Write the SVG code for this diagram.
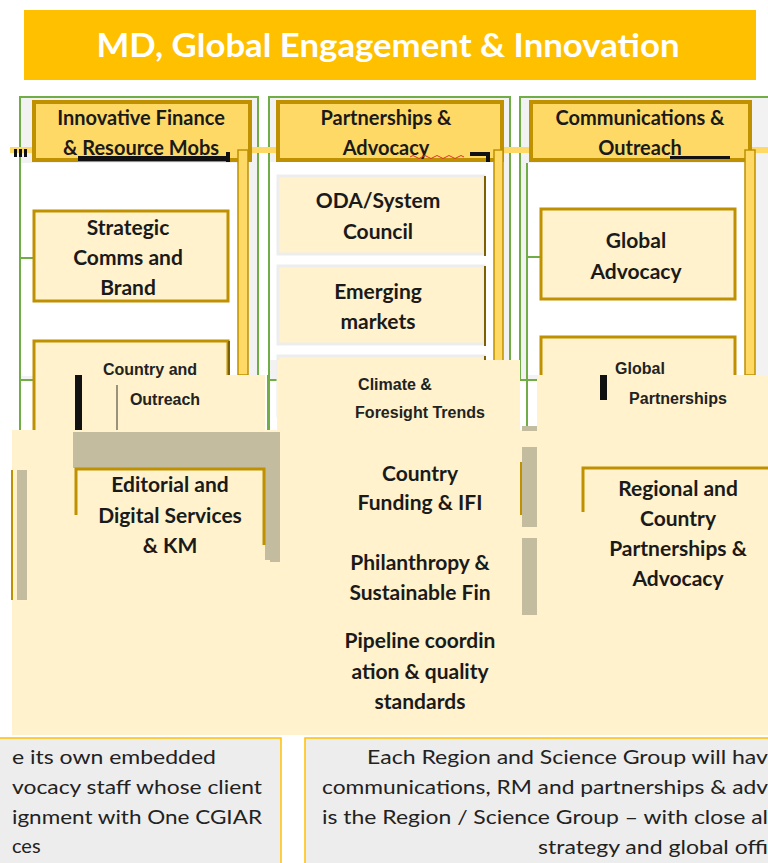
<svg xmlns="http://www.w3.org/2000/svg" width="768" height="863" viewBox="0 0 768 863">
<style>
.lbl{font-family:Lato,"Open Sans","Liberation Sans",sans-serif;font-weight:bold;font-size:21px;fill:#1a1a1a;text-anchor:middle}
.hdr{font-family:Lato,"Open Sans","Liberation Sans",sans-serif;font-weight:bold;font-size:20px;fill:#1a1a1a;text-anchor:middle}
.garb{font-family:"Liberation Sans",sans-serif;font-weight:bold;font-size:16px;fill:#222;text-anchor:middle}
.body{font-family:Lato,"Open Sans","Liberation Sans",sans-serif;font-size:20px;fill:#222}
.outer{fill:#F2F2F2;stroke:#70AD47;stroke-width:2}
.head{fill:#FFD966;stroke:#BF9000;stroke-width:4}
.child{fill:#FFF2CC;stroke:#BF9000;stroke-width:3}
.soft{fill:#FFF2CC;stroke:#EDEDED;stroke-width:3}
.gray{fill:#C4BC9F}
.cream{fill:#FFF2CC}
.conn{stroke:#70AD47;stroke-width:2;fill:none}
.bar{fill:#FFD966;stroke:#BF9000;stroke-width:1.5}
</style>
<rect width="768" height="863" fill="#ffffff"/>

<g id="title">
  <rect x="24" y="10" width="732" height="70" fill="#FFC000"/>
  <text x="388" y="57" font-family="Lato,'Open Sans','Liberation Sans',sans-serif" font-weight="bold" font-size="33" fill="#ffffff" text-anchor="middle" textLength="583" lengthAdjust="spacingAndGlyphs">MD, Global Engagement &amp; Innovation</text>
</g>

<g id="col1-frame"><rect class="outer" x="20" y="97" width="238" height="283"/></g>
<g id="col2-frame"><rect class="outer" x="269" y="97" width="241" height="283"/></g>
<g id="col3-frame"><rect class="outer" x="520" y="97" width="260" height="283"/></g>

<rect x="10" y="147" width="758" height="6" fill="#FFD966"/>

<g id="col1-header">
  <rect class="head" x="34" y="102" width="216" height="58"/>
  <text class="hdr" x="141" y="125">Innovative Finance</text>
  <text class="hdr" x="141" y="155">&amp; Resource Mobs</text>
</g>
<g id="col2-header">
  <rect class="head" x="278" y="102" width="224" height="58"/>
  <text class="hdr" x="386" y="125">Partnerships &amp;</text>
  <text class="hdr" x="386" y="155" font-size="15">Advocacy</text>
</g>
<g id="col3-header">
  <rect class="head" x="531" y="102" width="219" height="58"/>
  <text class="hdr" x="640" y="125">Communications &amp;</text>
  <text class="hdr" x="640" y="155" font-size="15">Outreach</text>
</g>

<g fill="#111">
  <rect x="14" y="149" width="3" height="8"/><rect x="19" y="149" width="3" height="8"/><rect x="24" y="149" width="3" height="8"/>
  <rect x="78" y="156" width="150" height="5"/>
  <rect x="226" y="152" width="4" height="10"/>
  <rect x="470" y="152" width="20" height="4"/><rect x="486" y="152" width="4" height="10"/>
  <rect x="670" y="156" width="60" height="3"/>
</g>
<path d="M 410 157 q 3 -3 6 0 t 6 0 t 6 0 t 6 0 t 6 0 t 6 0 t 6 0 t 6 0 t 6 0" stroke="#E03030" stroke-width="1" fill="none"/>

<rect x="15" y="163" width="223" height="213" fill="#ffffff"/>
<rect x="270" y="162" width="224" height="198" fill="#ffffff"/>
<rect x="527" y="163" width="218" height="212" fill="#ffffff"/>

<rect class="bar" x="238" y="150" width="10" height="225"/>
<rect class="bar" x="494" y="150" width="9" height="230"/>
<rect class="bar" x="745" y="150" width="10" height="225"/>

<g id="connectors">
  <line class="conn" x1="20" y1="163" x2="20" y2="432"/>
  <line class="conn" x1="20" y1="258" x2="33" y2="258"/>
  <line class="conn" x1="62" y1="386" x2="75" y2="386"/>
  <line class="conn" x1="268" y1="375" x2="268" y2="430"/>
  <line class="conn" x1="527" y1="163" x2="527" y2="432"/>
  <line class="conn" x1="527" y1="257" x2="540" y2="257"/>
  <line class="conn" x1="570" y1="384" x2="582" y2="384"/>
  <line class="conn" x1="62" y1="515" x2="76" y2="515"/>
  <line class="conn" x1="568" y1="512" x2="583" y2="512"/>
  <line class="conn" x1="302" y1="718" x2="537" y2="718"/>
</g>

<g id="strategic">
  <rect class="child" x="34" y="211" width="194" height="90"/>
  <text class="lbl" x="128" y="235">Strategic</text>
  <text class="lbl" x="128" y="265">Comms and</text>
  <text class="lbl" x="128" y="295">Brand</text>
</g>
<g id="oda">
  <rect class="soft" x="278" y="176" width="206" height="78"/>
  <line x1="485" y1="176" x2="485" y2="256" stroke="#7F6000" stroke-width="2"/>
  <text class="lbl" x="378" y="208">ODA/System</text>
  <text class="lbl" x="378" y="239">Council</text>
</g>
<g id="emerging">
  <rect class="soft" x="278" y="266" width="206" height="78"/>
  <line x1="485" y1="266" x2="485" y2="346" stroke="#7F6000" stroke-width="2"/>
  <text class="lbl" x="378" y="299">Emerging</text>
  <text class="lbl" x="378" y="329">markets</text>
</g>
<g id="global-advocacy">
  <rect class="child" x="541" y="209" width="194" height="90"/>
  <text class="lbl" x="636" y="248">Global</text>
  <text class="lbl" x="636" y="279">Advocacy</text>
</g>

<g id="country-outreach">
  <rect class="child" x="34" y="341" width="194" height="130"/>
  <line x1="229" y1="341" x2="229" y2="375" stroke="#7F6000" stroke-width="2"/>
</g>
<g id="climate-foresight">
  <rect class="soft" x="278" y="356" width="206" height="60"/>
  <line x1="485" y1="356" x2="485" y2="380" stroke="#7F6000" stroke-width="2"/>
</g>
<g id="global-partnerships">
  <rect class="child" x="541" y="337" width="194" height="60"/>
</g>

<rect class="cream" x="12" y="430" width="756" height="305"/>
<rect class="cream" x="75" y="375" width="190" height="57"/>
<rect class="cream" x="277" y="360" width="243" height="75"/>
<rect class="cream" x="537" y="375" width="231" height="60"/>
<rect class="cream" x="12" y="430" width="50" height="45"/>

<rect class="gray" x="73" y="432" width="207" height="36"/>
<rect class="gray" x="265" y="468" width="15" height="92"/>
<rect class="gray" x="17" y="470" width="10" height="130"/>
<rect class="gray" x="270" y="432" width="10" height="130"/>
<rect class="gray" x="522" y="447" width="15" height="80"/>
<rect class="gray" x="522" y="538" width="15" height="77"/>
<rect class="gray" x="522" y="426" width="15" height="5"/>
<line x1="12" y1="470" x2="12" y2="600" stroke="#BF9000" stroke-width="2"/>
<line x1="521" y1="462" x2="521" y2="515" stroke="#BF9000" stroke-width="2"/>
<rect x="75" y="375" width="7" height="55" fill="#111"/>
<rect x="268" y="375" width="2" height="55" fill="#70AD47"/>
<rect x="600" y="375" width="7" height="25" fill="#111"/>

<text class="garb" x="150" y="375">Country and</text>
<text class="garb" x="165" y="405">Outreach</text>
<line x1="117" y1="385" x2="117" y2="430" stroke="#333" stroke-width="1"/>
<text class="garb" x="395" y="390">Climate &amp;</text>
<text class="garb" x="420" y="418">Foresight Trends</text>
<text class="garb" x="640" y="374">Global</text>
<text class="garb" x="678" y="404">Partnerships</text>

<g id="editorial">
  <path d="M 76 515 V 469 H 264 V 545" stroke="#BF9000" stroke-width="3" fill="none"/>
  <text class="lbl" x="170" y="492">Editorial and</text>
  <text class="lbl" x="170" y="523">Digital Services</text>
  <text class="lbl" x="170" y="553">&amp; KM</text>
</g>
<g id="country-funding">
  <text class="lbl" x="420" y="481">Country</text>
  <text class="lbl" x="420" y="510">Funding &amp; IFI</text>
</g>
<g id="philanthropy">
  <text class="lbl" x="420" y="570">Philanthropy &amp;</text>
  <text class="lbl" x="420" y="600">Sustainable Fin</text>
</g>
<g id="pipeline">
  <text class="lbl" x="420" y="648">Pipeline coordin</text>
  <text class="lbl" x="420" y="679">ation &amp; quality</text>
  <text class="lbl" x="420" y="709">standards</text>
</g>
<g id="regional">
  <path d="M 583 512 V 468 H 768" stroke="#BF9000" stroke-width="3" fill="none"/>
  <text class="lbl" x="678" y="496">Regional and</text>
  <text class="lbl" x="678" y="526">Country</text>
  <text class="lbl" x="678" y="556">Partnerships &amp;</text>
  <text class="lbl" x="678" y="586">Advocacy</text>
</g>

<g id="note-left">
  <rect x="-2" y="738" width="283" height="130" fill="#EDEDED" stroke="#FFC000" stroke-width="1.5"/>
  <text class="body" x="12" y="764" textLength="204" lengthAdjust="spacingAndGlyphs">e its own embedded</text>
  <text class="body" x="12" y="794" textLength="250" lengthAdjust="spacingAndGlyphs">vocacy staff whose client</text>
  <text class="body" x="12" y="824" textLength="250" lengthAdjust="spacingAndGlyphs">ignment with One CGIAR</text>
  <text class="body" x="12" y="853">ces</text>
</g>
<g id="note-right">
  <rect x="305" y="738" width="470" height="130" fill="#EDEDED" stroke="#FFC000" stroke-width="1.5"/>
  <text class="body" x="367" y="764" textLength="401" lengthAdjust="spacingAndGlyphs">Each Region and Science Group will hav</text>
  <text class="body" x="322" y="794" textLength="446" lengthAdjust="spacingAndGlyphs">communications, RM and partnerships &amp; adv</text>
  <text class="body" x="322" y="824" textLength="446" lengthAdjust="spacingAndGlyphs">is the Region / Science Group – with close al</text>
  <text class="body" x="538" y="854" textLength="230" lengthAdjust="spacingAndGlyphs">strategy and global offi</text>
</g>
</svg>
